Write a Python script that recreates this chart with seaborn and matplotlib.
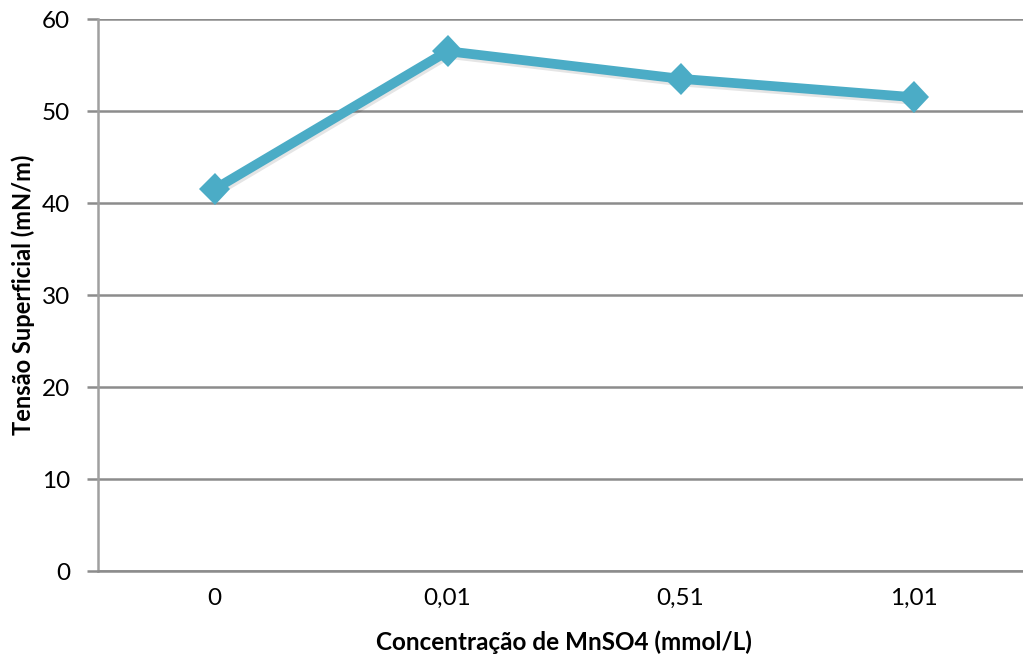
import matplotlib
matplotlib.use("Agg")
import matplotlib.pyplot as plt
import matplotlib.patheffects as pe
import seaborn as sns
import pandas as pd

concentracoes = ["0", "0,01", "0,51", "1,01"]
tensao = [41.5, 56.5, 53.5, 51.5]
y_ticks = [0, 10, 20, 30, 40, 50, 60]

df = pd.DataFrame({"conc": concentracoes, "tensao": tensao})

sns.set_theme(style="white")
plt.rcParams["font.family"] = ["Lato", "DejaVu Sans"]

fig = plt.figure(figsize=(10.23, 6.61), dpi=100)
ax = fig.add_axes([98 / 1023, 90 / 661, 932 / 1023, 552 / 661])

line_color = "#4BACC6"
sns.lineplot(data=df, x="conc", y="tensao", ax=ax, color=line_color,
             linewidth=7, marker="D", markersize=16, markeredgewidth=0,
             sort=False)
for ln in ax.get_lines():
    ln.set_path_effects([pe.SimpleLineShadow(offset=(1, -2), shadow_color="black", alpha=0.1),
                         pe.Normal()])

ax.set_xlim(-0.5, 3.5)
ax.set_ylim(0, 60)
ax.set_yticks(y_ticks)
ax.yaxis.grid(True, color="#8c8c8c", linewidth=1.8)
ax.set_axisbelow(True)

for side in ["top", "right"]:
    ax.spines[side].set_visible(False)
ax.spines["left"].set_color("#a0a0a0")
ax.spines["left"].set_linewidth(1.8)
ax.spines["bottom"].set_color("#8c8c8c")
ax.spines["bottom"].set_linewidth(1.8)

ax.tick_params(axis="y", length=8, width=1.8, color="#8c8c8c", pad=12,
               labelsize=17.5, labelcolor="black", left=True)
ax.tick_params(axis="x", length=0, pad=12, labelsize=17.5, labelcolor="black")

ax.set_xlabel("Concentração de MnSO4 (mmol/L)", fontsize=17.5, fontweight="bold",
              color="black", labelpad=16)
ax.set_ylabel("Tensão Superficial (mN/m)", fontsize=17, fontweight="bold",
              color="black", labelpad=5)

fig.savefig("out.png", dpi=100, facecolor="white")
